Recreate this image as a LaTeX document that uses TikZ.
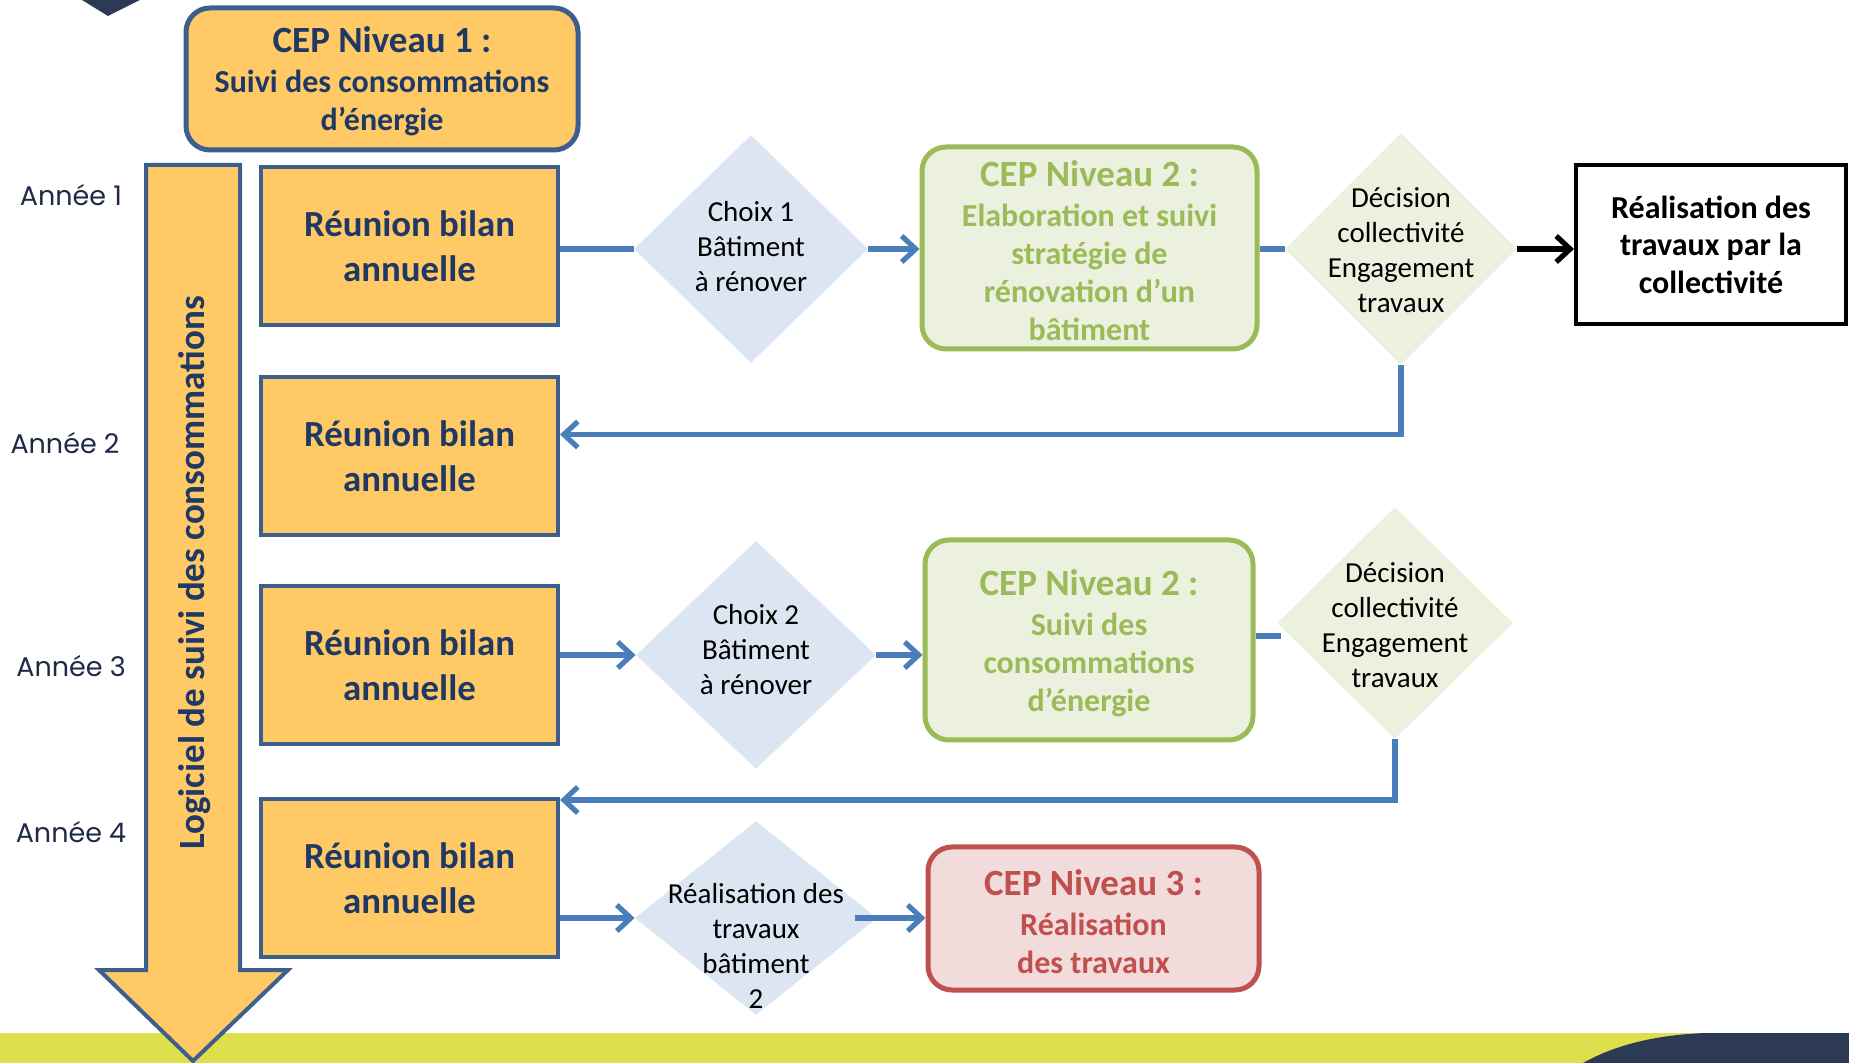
\documentclass[tikz,border=0pt]{standalone}
\usepackage{fontspec}
\setmainfont{Carlito}
\newfontfamily\anneefont{Poppins}
\usetikzlibrary{shapes.geometric,arrows.meta,calc}
\definecolor{navy}{HTML}{1F3864}
\definecolor{anneecol}{HTML}{1F2A44}
\definecolor{boxblue}{HTML}{3C5F8E}
\definecolor{orangefill}{HTML}{FFC966}
\definecolor{connblue}{HTML}{4A7EBB}
\definecolor{dblue}{HTML}{DCE6F2}
\definecolor{greenfill}{HTML}{EBF1DE}
\definecolor{greenline}{HTML}{9BBB59}
\definecolor{redfill}{HTML}{F2DCDB}
\definecolor{redline}{HTML}{C0504D}
\definecolor{bandcol}{HTML}{DDDF4D}
\definecolor{darknavy}{HTML}{2C3A55}
\begin{document}
\begin{tikzpicture}[x=0.5pt,y=-0.5pt,
  reunion/.style={draw=boxblue, line width=2pt, fill=orangefill, inner sep=0pt,
    minimum width=148.5pt, minimum height=79pt, align=center, text=navy,
    font=\bfseries\fontsize{18.4}{22.5}\selectfont},
  cepbox/.style={rounded corners=12pt, line width=2.5pt, inner sep=0pt},
  ceptext/.style={align=center, font=\bfseries\fontsize{16}{19}\selectfont},
  diam/.style={diamond, draw=none, inner sep=0pt},
  dtext/.style={align=center, text=black, font=\fontsize{14.5}{17.5}\selectfont},
  annee/.style={text=anneecol, font=\anneefont\fontsize{13.5}{16}\selectfont},
  conn/.style={draw=connblue, line width=2.6pt},
  arr/.style={-{Straight Barb[length=7pt,width=13pt]}}
]
\useasboundingbox (0,0) rectangle (1849,1063);
% bottom band and decorations
\fill[bandcol] (0,1033) rectangle (1849,1063);
\fill[darknavy] (1583,1063) .. controls (1615,1045) and (1655,1035) .. (1705,1033) -- (1849,1033) -- (1849,1063) -- cycle;
\fill[darknavy] (82,0) -- (140,0) -- (108,16) -- cycle;

% big arrow
\draw[draw=boxblue, line width=2pt, fill=orangefill, line join=miter]
  (146,165) -- (240,165) -- (240,970) -- (288,970) -- (193,1061) -- (99,970) -- (146,970) -- cycle;
\node[rotate=90, text=navy, font=\bfseries\fontsize{18.5}{22}\selectfont] (logi) at (195,573) {Logiciel de suivi des consommations};

% CEP niveau 1
\node[cepbox, draw=boxblue, fill=orangefill, minimum width=196pt, minimum height=71pt] (cep1) at (382,79) {};
\node[ceptext, text=navy] (cep1t) at (382,81) {{\fontsize{18.5}{21}\selectfont CEP Niveau 1 :}\\[1pt]Suivi des consommations\\d’énergie};

% annees
\node[annee] (a1) at (71,195) {Année 1};
\node[annee] (a2) at (65,443) {Année 2};
\node[annee] (a3) at (71,666) {Année 3};
\node[annee] (a4) at (71,832) {Année 4};

% reunions
\node[reunion] (r1) at (409.5,246) {Réunion bilan\\annuelle};
\node[reunion] (r2) at (409.5,456.5) {Réunion bilan\\annuelle};
\node[reunion] (r3) at (409.5,665) {Réunion bilan\\annuelle};
\node[reunion] (r4) at (409.5,878) {Réunion bilan\\annuelle};

% diamonds
\node[diam, fill=dblue, minimum width=117pt, minimum height=114pt] (d1) at (751,249) {};
\node[dtext] (d1t) at (751,247) {Choix 1\\Bâtiment\\ à rénover};
\node[diam, fill=greenfill, minimum width=116pt, minimum height=116pt] (d2) at (1401,249) {};
\node[dtext] (d2t) at (1401,250) {Décision\\collectivité\\Engagement\\travaux};
\node[diam, fill=dblue, minimum width=120pt, minimum height=114pt] (d3) at (756,655) {};
\node[dtext] (d3t) at (756,650) {Choix 2\\Bâtiment\\ à rénover};
\node[diam, fill=greenfill, minimum width=118pt, minimum height=116pt] (d4) at (1395,623) {};
\node[dtext] (d4t) at (1395,625) {Décision\\collectivité\\Engagement\\travaux};
\node[diam, fill=dblue, minimum width=121pt, minimum height=97pt] (d5) at (756,918) {};
\node[dtext] (d5t) at (756,946) {Réalisation des\\travaux\\bâtiment\\2};

% CEP niveau 2 (a)
\node[cepbox, draw=greenline, fill=greenfill, minimum width=167.5pt, minimum height=101pt] (c2a) at (1089.5,248) {};
\node[ceptext, text=greenline] (c2at) at (1089.5,251) {{\fontsize{18.5}{21}\selectfont CEP Niveau 2 :}\\[1pt]Elaboration et suivi\\stratégie de\\rénovation d’un\\bâtiment};
% CEP niveau 2 (b)
\node[cepbox, draw=greenline, fill=greenfill, minimum width=164pt, minimum height=100pt] (c2b) at (1089,640) {};
\node[ceptext, text=greenline] (c2bt) at (1089,643) {{\fontsize{18.5}{21}\selectfont CEP Niveau 2 :}\\[1pt]Suivi des\\consommations\\d’énergie};
% CEP niveau 3
\node[cepbox, draw=redline, fill=redfill, minimum width=165.5pt, minimum height=71.5pt] (c3) at (1093.5,918.5) {};
\node[ceptext, text=redline] (c3t) at (1093.5,922) {{\fontsize{18.5}{21}\selectfont CEP Niveau 3 :}\\[1pt]Réalisation\\des travaux};

% realisation box
\node[draw=black, line width=2pt, fill=white, minimum width=135pt, minimum height=79.5pt, inner sep=0pt,
  align=center, font=\bfseries\fontsize{16}{18.75}\selectfont] (real) at (1711,244.5) {Réalisation des\\travaux par la\\collectivité};

% connectors
\draw[conn] (r1.east |- d1) -- (d1.west);
\draw[conn,arr] (d1.east) -- (c2a.west |- d1);
\draw[conn] (c2a.east |- d2) -- (d2.west);
\draw[draw=black, line width=2.6pt, arr] (d2.east) -- (real.west |- d2);
\draw[conn,arr] (d2.south) |- ([yshift=11pt]r2.east);
\draw[conn,arr] (r3.east |- d3) -- (d3.west);
\draw[conn,arr] (d3.east) -- (c2b.west |- d3);
\draw[conn] ([yshift=2pt]c2b.east) -- ([yshift=2pt,xshift=2pt]c2b.east -| d4.west);
\draw[conn,arr] (d4.south) |- ([yshift=-1.5pt]r4.north east);
\draw[conn,arr] (r4.east |- d5) -- (d5.west);
\draw[conn,arr] ([xshift=-11pt]d5.east) -- (c3.west |- d5);
\end{tikzpicture}
\end{document}
